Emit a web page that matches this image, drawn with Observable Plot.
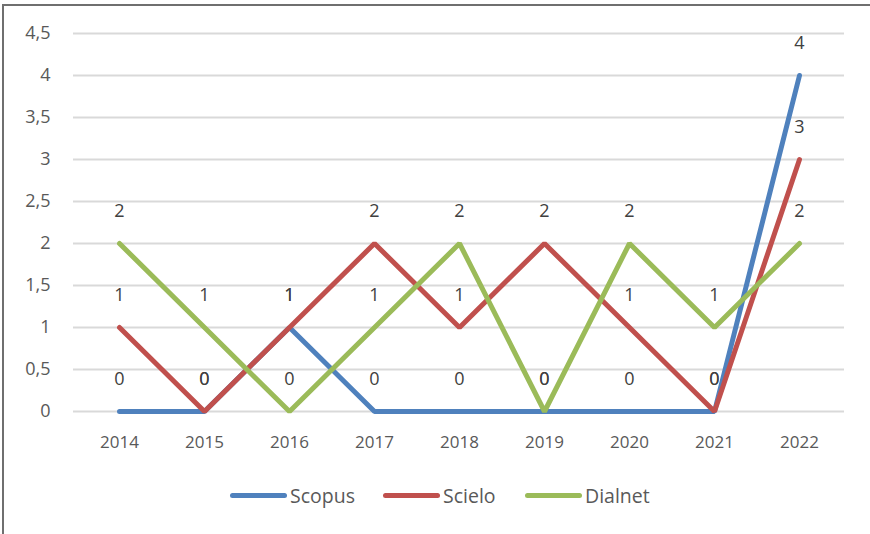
<!DOCTYPE html>
<html>
<head>
<meta charset="utf-8">
<script src="https://cdn.jsdelivr.net/npm/d3@7"></script>
<script src="https://cdn.jsdelivr.net/npm/@observablehq/plot@0.6"></script>
<style>
  html, body { margin: 0; padding: 0; background: #fff; }
  #wrap { position: relative; width: 870px; height: 534px; overflow: hidden; background: #fff;
          font-family: "Open Sans", Lato, sans-serif; }
  #frameTop { position: absolute; left: 3px; top: 4px; width: 867px; height: 0; border-top: 2px solid #6f6f6f; }
  #frameLeft { position: absolute; left: 2px; top: 4px; width: 0; height: 530px; border-left: 2px solid #6f6f6f; }
  #chart { position: absolute; left: 0; top: 0; }
  #legend { position: absolute; top: 482px; left: 0; width: 870px; height: 26px; }
  .item { position: absolute; top: 0; display: flex; align-items: center; height: 26px;
          font-size: 19.5px; color: #595959; }
  .sw { display: inline-block; width: 57px; height: 5px; border-radius: 3px; margin-right: 3px; }
</style>
</head>
<body>
<div id="wrap">
  <div id="chart"></div>
  <div id="frameTop"></div>
  <div id="frameLeft"></div>
  <div id="legend"></div>
</div>
<script>
const years = ["2014","2015","2016","2017","2018","2019","2020","2021","2022"];
const seriesNames = ["Scopus","Scielo","Dialnet"];
const scopus  = [0,0,1,0,0,0,0,0,4];
const scielo  = [1,0,1,2,1,2,1,0,3];
const dialnet = [2,1,0,1,2,0,2,1,2];
const colors = ["#4F81BD","#C0504D","#9BBB59"];
const yTicks = [0,0.5,1,1.5,2,2.5,3,3.5,4,4.5];

const valuesBySeries = [scopus, scielo, dialnet];
const data = [];
seriesNames.forEach((s, i) => {
  years.forEach((y, j) => data.push({series: s, year: y, value: valuesBySeries[i][j]}));
});

const fmt = d => String(d).replace(".", ",");

const chart = Plot.plot({
  width: 870,
  height: 470,
  marginLeft: 73,
  marginRight: 26,
  marginTop: 33,
  marginBottom: 59,
  style: {fontFamily: "'Open Sans', Lato, sans-serif", fontSize: "16px", color: "#595959", background: "transparent"},
  x: {type: "point", domain: years, padding: 0.5, label: null},
  y: {domain: [0, 4.5], label: null},
  color: {domain: seriesNames, range: colors},
  marks: [
    Plot.ruleY(yTicks, {stroke: "#D9D9D9", strokeWidth: 2}),
    Plot.axisY(yTicks, {tickSize: 0, tickPadding: 23, tickFormat: fmt, fill: "#595959", fontSize: 18, label: null}),
    Plot.axisX({tickSize: 0, tickPadding: 24, fill: "#595959", fontSize: 17, label: null}),
    Plot.line(data, {x: "year", y: "value", z: "series", stroke: "series", strokeWidth: 5,
                     strokeLinecap: "round", strokeLinejoin: "miter"}),
    Plot.text(data, {x: "year", y: "value", text: d => fmt(d.value), dy: -32,
                     fill: "#404040", fontSize: 18})
  ]
});
document.getElementById("chart").appendChild(chart);

const lefts = [230, 383, 525];
const legend = document.getElementById("legend");
seriesNames.forEach((s, i) => {
  const it = document.createElement("div");
  it.className = "item";
  it.style.left = lefts[i] + "px";
  it.innerHTML = `<span class="sw" style="background:${colors[i]}"></span><span>${s}</span>`;
  legend.appendChild(it);
});
</script>
</body>
</html>
